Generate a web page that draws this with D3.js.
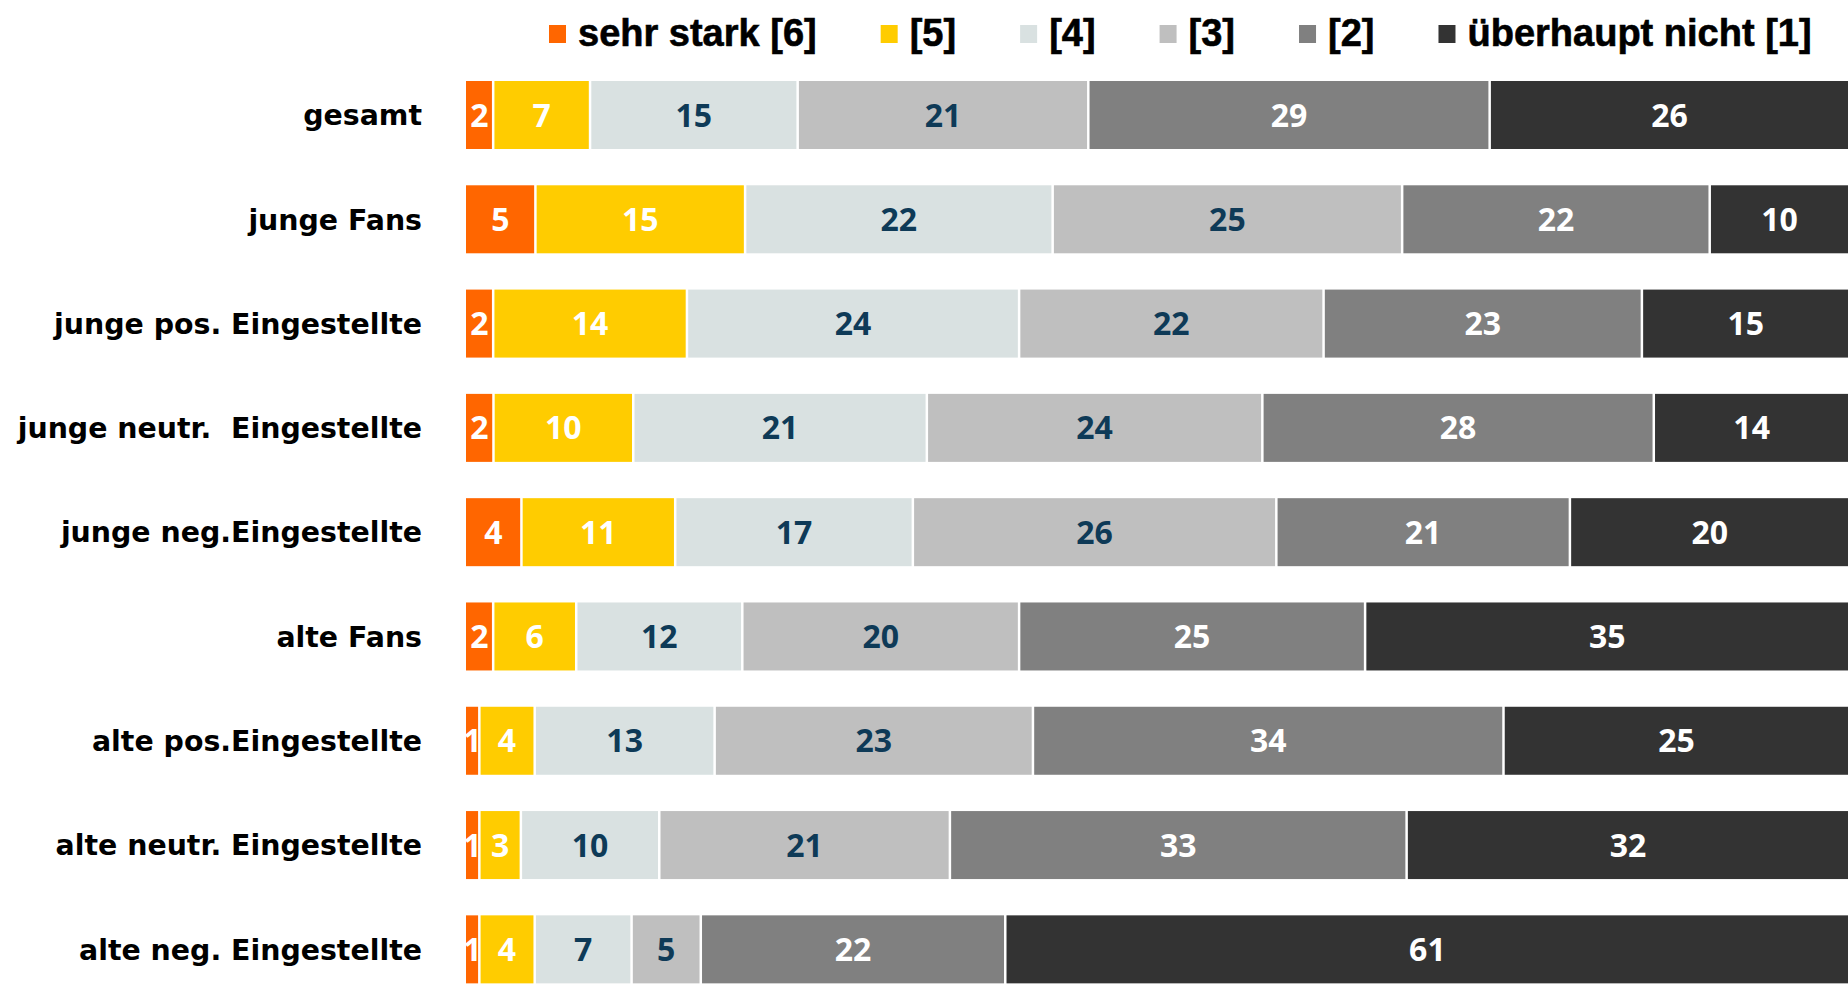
<!DOCTYPE html>
<html lang="de">
<head>
<meta charset="utf-8">
<title>Zustimmung nach Gruppen</title>
<script src="https://cdn.jsdelivr.net/npm/d3@7"></script>
<style>
  html, body { margin: 0; padding: 0; background: #ffffff; }
  svg { display: block; }
  .cat-label { font-family: "DejaVu Sans", Verdana, sans-serif; font-weight: bold; font-size: 28.4px; fill: #000; white-space: pre; }
  .legend-label { font-family: "Liberation Sans", Arial, sans-serif; font-weight: bold; font-size: 38px; fill: #000; stroke: #000; stroke-width: 0.6px; }
  .value-label { font-family: "Open Sans", "Noto Sans", sans-serif; font-weight: bold; font-size: 32px; }
</style>
</head>
<body>
<svg id="chart" width="1848" height="987"></svg>
<script>
// Gruppen (von oben nach unten)
const categories = [
  "gesamt",
  "junge Fans",
  "junge pos. Eingestellte",
  "junge neutr.  Eingestellte",
  "junge neg.Eingestellte",
  "alte Fans",
  "alte pos.Eingestellte",
  "alte neutr. Eingestellte",
  "alte neg. Eingestellte"
];

// Antwortstufen, von "sehr stark" bis "überhaupt nicht"
const levelKeys = ["s6", "s5", "s4", "s3", "s2", "s1"];
const levelNames = ["sehr stark [6]", "[5]", "[4]", "[3]", "[2]", "überhaupt nicht [1]"];

// Prozentwerte je Stufe, in der Reihenfolge der Gruppen
const s6 = [2, 5, 2, 2, 4, 2, 1, 1, 1];
const s5 = [7, 15, 14, 10, 11, 6, 4, 3, 4];
const s4 = [15, 22, 24, 21, 17, 12, 13, 10, 7];
const s3 = [21, 25, 22, 24, 26, 20, 23, 21, 5];
const s2 = [29, 22, 23, 28, 21, 25, 34, 33, 22];
const s1 = [26, 10, 15, 14, 20, 35, 25, 32, 61];

const seriesValues = [s6, s5, s4, s3, s2, s1];
const colors = ["#FF6600", "#FFCC00", "#D9E1E1", "#BFBFBF", "#808080", "#333333"];
const labelColors = ["#ffffff", "#ffffff", "#0E3A57", "#0E3A57", "#ffffff", "#ffffff"];

// Tabelle für d3.stack
const rows = categories.map((c, i) => {
  const r = { category: c };
  levelKeys.forEach((k, j) => { r[k] = seriesValues[j][i]; });
  return r;
});

const stacked = d3.stack()
  .keys(levelKeys)
  .offset(d3.stackOffsetExpand)(rows);

const svg = d3.select("#chart");

const x = d3.scaleLinear().domain([0, 1]).range([465.5, 1849.5]);
const y = d3.scaleBand()
  .domain(categories)
  .range([62.85, 1001.5])
  .paddingInner(0.348)
  .paddingOuter(0.174);

const gap = 1.25;

// Balkensegmente
const layers = svg.append("g").attr("class", "bars")
  .selectAll("g")
  .data(stacked)
  .join("g")
  .attr("fill", (d, i) => colors[i]);

layers.selectAll("rect")
  .data(d => d)
  .join("rect")
  .attr("x", d => x(d[0]) + (d[0] === 0 ? 0.5 : gap))
  .attr("y", d => y(d.data.category))
  .attr("width", d => Math.max(0, x(d[1]) - x(d[0]) - (d[0] === 0 ? 0.5 + gap : 2 * gap)))
  .attr("height", y.bandwidth());

// Werte in den Segmenten
const labels = svg.append("g").attr("class", "values")
  .selectAll("g")
  .data(stacked)
  .join("g")
  .attr("fill", (d, i) => labelColors[i]);

labels.selectAll("text")
  .data(d => d.map(p => ({ p, key: d.key })))
  .join("text")
  .attr("class", "value-label")
  .attr("text-anchor", "middle")
  .attr("x", d => (x(d.p[0]) + x(d.p[1])) / 2)
  .attr("y", d => y(d.p.data.category) + y.bandwidth() / 2)
  .attr("dy", "0.36em")
  .text(d => d.p.data[d.key]);

// Gruppenbeschriftung links
const yAxis = d3.axisLeft(y).tickSize(0).tickPadding(0);
const axisG = svg.append("g")
  .attr("transform", "translate(422,0)")
  .call(yAxis);
axisG.select(".domain").remove();
axisG.selectAll("text")
  .attr("class", "cat-label")
  .attr("font-family", null)
  .attr("font-size", null)
  .attr("fill", null)
  .attr("dy", "0.36em");

// Legende
const legend = svg.append("g").attr("class", "legend");
let lx = 549;
levelNames.forEach((name, i) => {
  const item = legend.append("g").attr("transform", `translate(${lx},0)`);
  item.append("rect")
    .attr("x", 0).attr("y", 25)
    .attr("width", 17).attr("height", 18)
    .attr("fill", colors[i]);
  const t = item.append("text")
    .attr("class", "legend-label")
    .attr("x", 29).attr("y", 46)
    .text(name);
  lx += 29 + t.node().getComputedTextLength() + 64;
});
</script>
</body>
</html>
